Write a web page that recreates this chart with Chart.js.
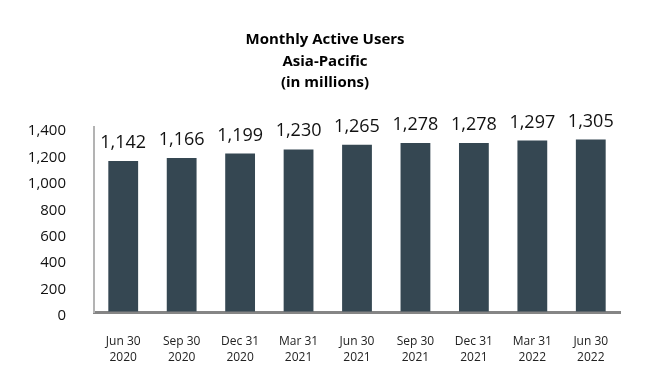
<!DOCTYPE html>
<html>
<head>
<meta charset="utf-8">
<script src="https://cdn.jsdelivr.net/npm/chart.js@4/dist/chart.umd.min.js"></script>
<style>
  html, body { margin: 0; padding: 0; background: #ffffff; }
  #wrap { width: 650px; height: 390px; position: relative; }
</style>
</head>
<body>
<div id="wrap"><canvas id="c" width="650" height="390"></canvas></div>
<script>
const categories = [
  ["Jun 30", "2020"], ["Sep 30", "2020"], ["Dec 31", "2020"],
  ["Mar 31", "2021"], ["Jun 30", "2021"], ["Sep 30", "2021"],
  ["Dec 31", "2021"], ["Mar 31", "2022"], ["Jun 30", "2022"]
];
const mauValues = [1142, 1166, 1199, 1230, 1265, 1278, 1278, 1297, 1305];
const titleLines = ["Monthly Active Users", "Asia-Pacific", "(in millions)"];
const yTickMin = 0;
const yTickMax = 1400;
const yTickStep = 200;

const fmt = v => v.toLocaleString('en-US');

const valueLabels = {
  id: 'valueLabels',
  afterDatasetsDraw(chart) {
    const ctx = chart.ctx;
    const meta = chart.getDatasetMeta(0);
    ctx.save();
    ctx.font = '18px "Open Sans"';
    ctx.fillStyle = '#111111';
    ctx.textAlign = 'center';
    ctx.textBaseline = 'alphabetic';
    meta.data.forEach((bar, i) => {
      ctx.fillText(fmt(chart.data.datasets[0].data[i]), bar.x, bar.y - 13);
    });
    ctx.restore();
  }
};

const pageTitle = {
  id: 'pageTitle',
  afterDraw(chart) {
    const ctx = chart.ctx;
    ctx.save();
    ctx.font = 'bold 15px "Open Sans"';
    ctx.fillStyle = '#000000';
    ctx.textAlign = 'center';
    ctx.textBaseline = 'middle';
    titleLines.forEach((line, i) => {
      ctx.fillText(line, chart.width / 2, 40 + i * 21.5);
    });
    ctx.restore();
  }
};

new Chart(document.getElementById('c'), {
  type: 'bar',
  data: {
    labels: categories,
    datasets: [{
      data: mauValues,
      backgroundColor: '#354752',
      borderWidth: 0,
      categoryPercentage: 1.0,
      barPercentage: 0.51
    }]
  },
  options: {
    responsive: false,
    animation: false,
    devicePixelRatio: 1,
    layout: { padding: { left: 0, right: 30, top: 127, bottom: 0 } },
    plugins: {
      legend: { display: false },
      tooltip: { enabled: false },
      title: { display: false }
    },
    scales: {
      x: {
        grid: { display: true, drawOnChartArea: false, drawTicks: false },
        border: { display: true, color: '#858585', width: 3 },
        ticks: {
          color: '#222222',
          font: { family: '"Open Sans"', size: 12, lineHeight: 1.35 },
          padding: 21,
          maxRotation: 0,
          autoSkip: false
        },
        afterFit(scale) { scale.height = 78; }
      },
      y: {
        min: yTickMin,
        max: yTickMax,
        grid: { display: true, drawOnChartArea: false, drawTicks: false },
        border: { display: true, color: '#b3b3b3', width: 2 },
        ticks: {
          stepSize: yTickStep,
          color: '#111111',
          font: { family: '"Open Sans"', size: 15 },
          padding: 28,
          labelOffset: 4,
          callback: v => fmt(v)
        },
        afterFit(scale) { scale.width = 94; }
      }
    }
  },
  plugins: [valueLabels, pageTitle]
});
</script>
</body>
</html>
